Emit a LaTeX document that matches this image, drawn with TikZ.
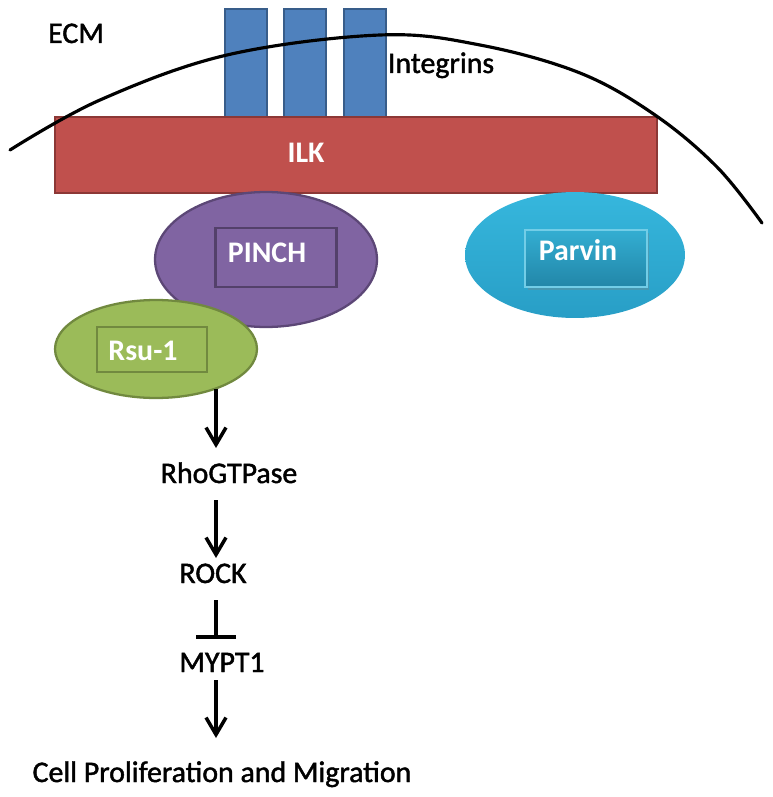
\documentclass[tikz,border=0pt]{standalone}
\usepackage{fontspec}
\setmainfont{Carlito}
\newfontfamily\labelfont{Carlito}[FakeBold=1.5]
\usetikzlibrary{arrows.meta,shapes.geometric,calc,shadows}
\definecolor{intblue}{RGB}{79,129,189}
\definecolor{intedge}{RGB}{56,93,138}
\definecolor{ilkred}{RGB}{192,80,77}
\definecolor{ilkedge}{RGB}{140,56,54}
\definecolor{pinchpurple}{RGB}{128,100,162}
\definecolor{pinchedge}{RGB}{92,71,118}
\definecolor{rsugreen}{RGB}{155,187,89}
\definecolor{rsuedge}{RGB}{113,137,63}
\definecolor{parvtop}{RGB}{54,183,221}
\definecolor{parvbot}{RGB}{40,158,198}
\begin{document}
\begin{tikzpicture}
	[x=0.02cm,y=-0.02cm,
	integrin/.style={draw=intedge,fill=intblue,line width=1pt},
	ilkbar/.style={draw=ilkedge,fill=ilkred,line width=1pt},
	blob/.style={ellipse,line width=1.3pt,inner sep=0},
	innerbox/.style={rectangle,line width=1.2pt,inner sep=0},
	lbl/.style={font=\fontsize{17}{20}\labelfont,inner sep=0,anchor=base},
	wlbl/.style={lbl,font=\fontsize{17}{20}\selectfont\bfseries,text=white},
	arr/.style={-{Straight Barb[length=0.34cm,width=0.4cm]},line width=2pt},
	inhib/.style={-{Bar[width=0.8cm]},line width=2pt},
	membrane/.style={line width=1.8pt,line cap=round}
	]
	\useasboundingbox (0,0) rectangle (772,797);
	\foreach \x in {225,284,344}
		\draw[integrin] (\x,9) rectangle ++(42,109);
	\draw[ilkbar] (55,117) rectangle (657,193);
	\node[blob,draw=pinchedge,fill=pinchpurple,minimum width=4.44cm,minimum height=2.7cm] (pinch) at (266,259.5) {};
	\node[innerbox,draw=pinchedge!90!black,minimum width=2.42cm,minimum height=1.18cm] (pinchbox) at (276,257.5) {};
	\node[blob,draw=rsuedge,fill=rsugreen,minimum width=4.04cm,minimum height=1.96cm] (rsu) at (156,349) {};
	\node[innerbox,draw=rsuedge,minimum width=2.2cm,minimum height=0.9cm] (rsubox) at (152,349.5) {};
	\node[blob,top color=parvtop,bottom color=parvbot,minimum width=4.4cm,minimum height=2.52cm] (parvin) at (575,255) {};
	\node[innerbox,draw=parvtop!70!white,line width=0.6pt,top color=parvtop!95!black,bottom color=parvbot!85!black,
		drop shadow={opacity=0.35,shadow xshift=0.05cm,shadow yshift=-0.06cm},
		minimum width=2.44cm,minimum height=1.14cm] (parvbox) at (586,258.5) {};
	\draw[membrane] plot[smooth,tension=0.6] coordinates
		{(10,150) (100,100) (227,55) (380,35) (480,45) (580,73) (655,115) (717,167) (762,223)};
	\node[lbl] (ecm) at (76,43) {ECM};
	\node[lbl] (integrins) at (441,73) {Integrins};
	\node[wlbl] (ilk) at (306,163) {ILK};
	\node[wlbl] (pinchtxt) at (267,262) {PINCH};
	\node[wlbl] (rsutxt) at (143,360) {Rsu-1};
	\node[wlbl] (parvtxt) at (578,260) {Parvin};
	\coordinate (axis) at (216,0);
	\node[lbl] (rho) at (229,483) {RhoGTPase};
	\node[lbl] (rock) at (213,583) {ROCK};
	\node[lbl] (mypt) at (222,672) {MYPT1};
	\node[lbl] (cell) at (222,782) {Cell Proliferation and Migration};
	\draw[arr] (rsu.-33 -| axis) -- ($(rho.base -| axis)+(0,-35)$);
	\draw[arr] ($(rho.base -| axis)+(0,17)$) -- ($(rock.base -| axis)+(0,-25)$);
	\draw[inhib] ($(rock.base -| axis)+(0,17)$) -- ($(mypt.base -| axis)+(0,-33)$);
	\draw[arr] ($(mypt.base -| axis)+(0,8)$) -- ($(cell.base -| axis)+(0,-44)$);
\end{tikzpicture}
\end{document}
